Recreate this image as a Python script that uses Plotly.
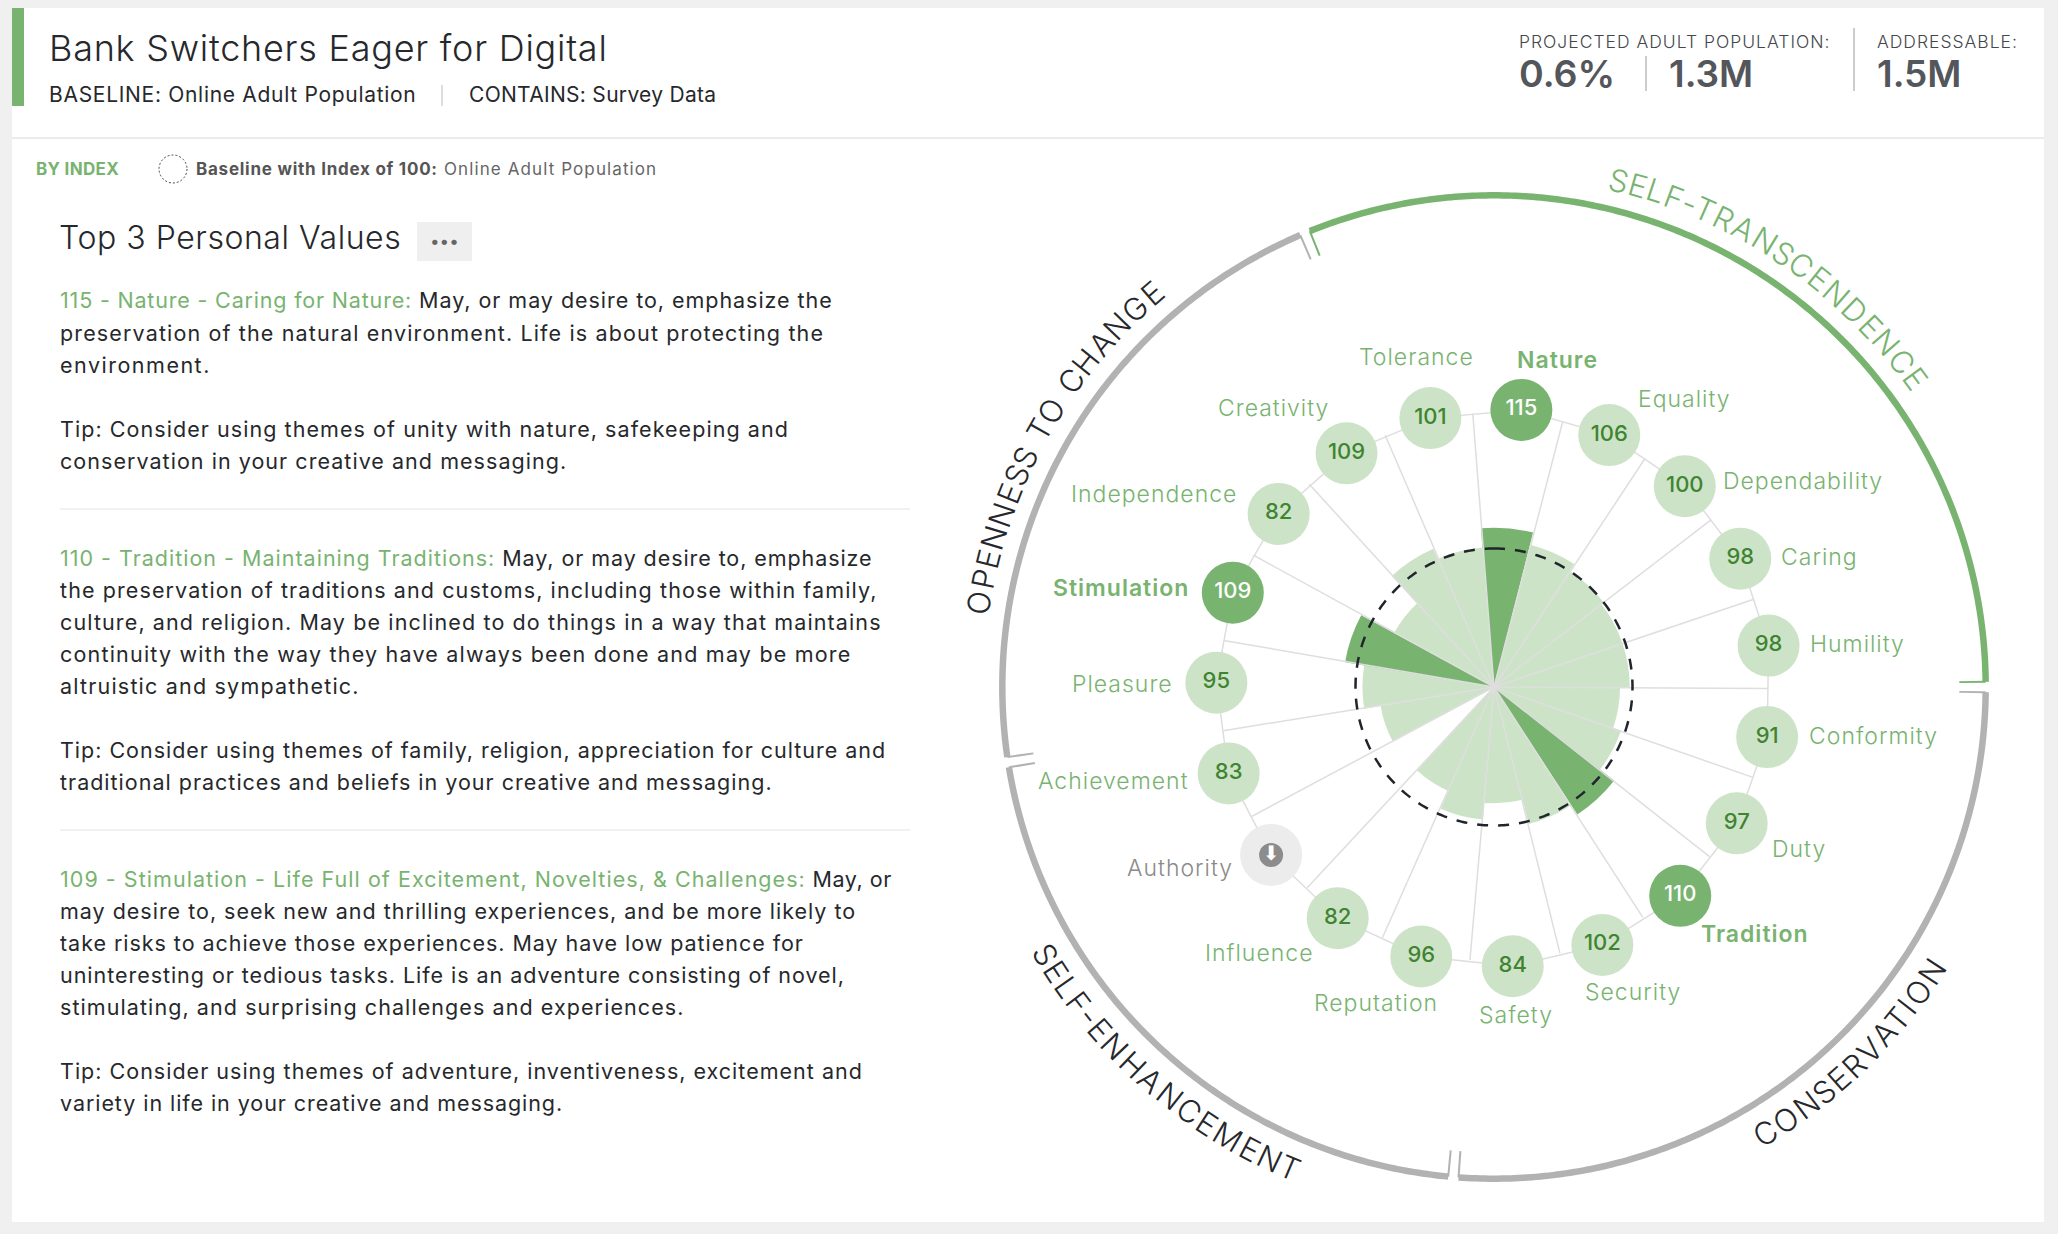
import numpy as np
import plotly.graph_objects as go

W, H = 2058, 1234
GREEN = "#78B370"
LIGHT = "#CDE3C7"
DKGREEN = "#3F8430"
GRAY = "#B2B2B2"
INK = "#26282B"
FONT = "Inter"

# centre of the wheel in page pixels and pixels per index point
CX, CY = 1494, 687
K = 1.385
RMAX = 375

names = ["Nature", "Equality", "Dependability", "Caring", "Humility", "Conformity", "Duty",
         "Tradition", "Security", "Safety", "Reputation", "Influence", "Authority",
         "Achievement", "Pleasure", "Stimulation", "Independence", "Creativity", "Tolerance"]
values = [115, 106, 100, 98, 98, 91, 97, 110, 102, 84, 96, 82, None, 83, 95, 109, 82, 109, 101]
top3 = ["Nature", "Tradition", "Stimulation"]

STEP = 360 / 19
theta = [4.737 + i * STEP for i in range(19)]
edges = [t - STEP / 2 for t in theta]
theta_bub = [t + 0.9 for t in theta]  # bubbles sit a little clockwise of their wedge
r_bub = [201, 200, 200, 200.5, 200.5, 200.5, 201, 202, 202, 202, 201.5, 201.5, 201.5, 201.5, 200.5, 200.5,
         199.5, 199.5, 199.5]

R_SPOKE = 198
R_RING = 355

fig = go.Figure()


def ann(x, y, text, size=21, color=INK, anchor="left", weight=400, angle=0, track=0):
    if track:
        text = '<span style="letter-spacing:%.2fpx">%s</span>' % (track, text)
    fig.add_annotation(x=x / W, y=1 - y / H, xref="paper", yref="paper", text=text, showarrow=False,
                       xanchor=anchor, yanchor="middle", align=anchor, textangle=angle,
                       font=dict(family=FONT, size=size, color=color, weight=weight))


def rect(x0, y0, x1, y1, fill=None, line=None, kind="rect", lw=0, dash=None):
    fig.add_shape(type=kind, xref="paper", yref="paper", x0=x0 / W, x1=x1 / W, y0=1 - y0 / H, y1=1 - y1 / H,
                  fillcolor=fill, line=dict(color=line, width=lw, dash=dash), layer="below")


# wedges
bar_t = [t for t, v in zip(theta, values) if v is not None]
bar_r = [v for v in values if v is not None]
bar_c = [GREEN if n in top3 else LIGHT for n, v in zip(names, values) if v is not None]
fig.add_trace(go.Barpolar(theta=bar_t, r=bar_r, width=STEP, marker=dict(color=bar_c, line=dict(width=0)),
                          hoverinfo="skip"))

# spokes and the line joining the bubbles
sp_t, sp_r = [], []
for e in edges:
    sp_t += [e + 0.3, e + 0.3, None]
    sp_r += [0, R_SPOKE, None]
fig.add_trace(go.Scatterpolar(theta=sp_t, r=sp_r, mode="lines", line=dict(color="#DEDEDE", width=1.5),
                              hoverinfo="skip"))
fig.add_trace(go.Scatterpolar(theta=theta_bub + theta_bub[:1], r=r_bub + r_bub[:1], mode="lines",
                              line=dict(color="#DEDEDE", width=1.5), hoverinfo="skip"))

# baseline at index 100
circ = np.arange(0, 361, 1.0)
fig.add_trace(go.Scatterpolar(theta=circ, r=[100] * len(circ), mode="lines",
                              line=dict(color="#20242B", width=2.5, dash="11px,10px"), hoverinfo="skip"))

# outer ring, four groups
groups = [("SELF-TRANSCENDENCE", 337.4, 450.0, GREEN),
          ("CONSERVATION", 90.0, 184.74, GRAY),
          ("SELF-ENHANCEMENT", 184.74, 261.2, GRAY),
          ("OPENNESS TO CHANGE", 261.2, 337.4, GRAY)]
for _, a, b, c in groups:
    th = np.arange(a + 0.6, b - 0.6, 0.5)
    th = np.append(th, b - 0.6)
    fig.add_trace(go.Scatterpolar(theta=th, r=[R_RING] * len(th), mode="lines", line=dict(color=c, width=6.5),
                                  hoverinfo="skip"))
    fig.add_trace(go.Scatterpolar(theta=[a + 0.6, a + 0.6, None, b - 0.6, b - 0.6],
                                  r=[R_RING, R_RING - 19, None, R_RING, R_RING - 19], mode="lines",
                                  line=dict(color=c, width=2), hoverinfo="skip"))

# bubbles
bub_c = ["#ECECEC" if v is None else (GREEN if n in top3 else LIGHT) for n, v in zip(names, values)]
txt_c = ["white" if n in top3 else DKGREEN for n in names]
fig.add_trace(go.Scatterpolar(theta=theta_bub, r=r_bub, mode="markers+text",
                              marker=dict(size=62, color=bub_c, line=dict(width=0)),
                              text=["" if v is None else str(v) for v in values], textposition="middle center",
                              textfont=dict(family=FONT, size=22, color=txt_c, weight=500), hoverinfo="skip"))

# arrow icon on Authority
ia = names.index("Authority")
fig.add_trace(go.Scatterpolar(theta=[theta_bub[ia]], r=[r_bub[ia]], mode="markers+text",
                              marker=dict(size=24, color="#8C8C8C"), text=["⬇"], textposition="middle center",
                              textfont=dict(family="DejaVu Sans", size=20, color="white"), hoverinfo="skip"))

fig.update_layout(
    width=W, height=H, margin=dict(l=0, r=0, t=0, b=0), paper_bgcolor="#F0F0F0", showlegend=False,
    polar=dict(
        domain=dict(x=[(CX - RMAX * K) / W, (CX + RMAX * K) / W],
                    y=[1 - (CY + RMAX * K) / H, 1 - (CY - RMAX * K) / H]),
        bgcolor="rgba(0,0,0,0)", bargap=0,
        radialaxis=dict(range=[0, RMAX], visible=False),
        angularaxis=dict(rotation=90, direction="clockwise", visible=False),
    ),
)

# card and header
rect(12, 8, 2044, 1222, fill="white")
rect(12, 8, 24, 106, fill=GREEN)
rect(12, 138, 2044, 138, line="#E4E4E4", kind="line", lw=1.5)
rect(442, 85, 442, 106, line="#BBBBBB", kind="line", lw=1)
rect(1646, 56, 1646, 91, line="#999999", kind="line", lw=1)
rect(1854, 28, 1854, 91, line="#999999", kind="line", lw=1)

ann(47, 48, "Bank Switchers Eager for Digital", size=36, weight=300, track=0.75)
ann(47, 95, "BASELINE: Online Adult Population", size=21, track=0.7)
ann(467, 95, "CONTAINS: Survey Data", size=21, track=0.3)
ann(1517, 41, "PROJECTED ADULT POPULATION:", size=17.5, color="#44474B", weight=300, track=1)
ann(1875, 41, "ADDRESSABLE:", size=17.5, color="#44474B", weight=300, track=1)
ann(1517, 73, "0.6%", size=37.5, color="#53565A", weight=600)
ann(1667, 73, "1.3M", size=37, color="#53565A", weight=600)
ann(1875, 73, "1.5M", size=37, color="#53565A", weight=600)

ann(34, 169, "BY INDEX", size=17, color=GREEN, weight=700, track=0.3)
rect(159, 155, 187, 183, line="#444444", kind="circle", lw=1, dash="2px,2px")
ann(194, 169, "Baseline with Index of 100:", size=17, color="#555555", weight=700, track=0.75)
ann(442, 169, "Online Adult Population", size=17, color="#666666", track=1.1)

ann(57, 238, "Top 3 Personal Values", size=32, weight=300, track=0.55)
rect(417, 222, 472, 261, fill="#EFEFEF")
ann(444.5, 241, "•••", size=17, color="#666666", anchor="center")


def lead(text, rest, t1, t2):
    return ('<span style="color:%s;letter-spacing:%.2fpx">%s</span><span style="letter-spacing:%.2fpx"> %s</span>'
            % (GREEN, t1, text, t2, rest))


# body text, one entry per line: y, text, letter spacing
body = [
    (300, lead("115 - Nature - Caring for Nature:", "May, or may desire to, emphasize the", 0.82, 0.96), 0),
    (333, "preservation of the natural environment. Life is about protecting the", 1.14),
    (365, "environment.", 1.5),
    (429, "Tip: Consider using themes of unity with nature, safekeeping and", 1.06),
    (461, "conservation in your creative and messaging.", 1.04),
    (558, lead("110 - Tradition - Maintaining Traditions:", "May, or may desire to, emphasize", 1.0, 0.92), 0),
    (590, "the preservation of traditions and customs, including those within family,", 1.1),
    (622, "culture, and religion. May be inclined to do things in a way that maintains", 1.12),
    (654, "continuity with the way they have always been done and may be more", 1.2),
    (686, "altruistic and sympathetic.", 1.2),
    (750, "Tip: Consider using themes of family, religion, appreciation for culture and", 0.98),
    (782, "traditional practices and beliefs in your creative and messaging.", 1.0),
    (879, lead("109 - Stimulation - Life Full of Excitement, Novelties, &amp; Challenges:", "May, or", 1.04, 0.55), 0),
    (911, "may desire to, seek new and thrilling experiences, and be more likely to", 0.99),
    (943, "take risks to achieve those experiences. May have low patience for", 0.96),
    (975, "uninteresting or tedious tasks. Life is an adventure consisting of novel,", 0.96),
    (1007, "stimulating, and surprising challenges and experiences.", 1.08),
    (1071, "Tip: Consider using themes of adventure, inventiveness, excitement and", 1.01),
    (1103, "variety in life in your creative and messaging.", 0.93),
]
for y, line, tr in body:
    ann(58, y, line, size=21.5, track=tr)
rect(60, 509, 910, 509, line="#ECECEC", kind="line", lw=1.5)
rect(60, 830, 910, 830, line="#ECECEC", kind="line", lw=1.5)

# bubble captions, page pixel position and anchor
labels = {
    "Tolerance": (1416, 357, "center"), "Nature": (1557, 360, "center"), "Equality": (1684, 399, "center"),
    "Dependability": (1721, 481, "left"), "Caring": (1779, 557, "left"), "Humility": (1808, 644, "left"),
    "Conformity": (1807, 736, "left"), "Duty": (1799, 849, "center"), "Tradition": (1755, 934, "center"),
    "Security": (1633, 992, "center"), "Safety": (1516, 1015, "center"), "Reputation": (1376, 1003, "center"),
    "Influence": (1259, 953, "center"), "Authority": (1180, 868, "center"), "Achievement": (1191, 781, "right"),
    "Pleasure": (1175, 684, "right"), "Stimulation": (1191, 588, "right"), "Independence": (1239, 494, "right"),
    "Creativity": (1273, 408, "center"),
}
for n, (x, y, a) in labels.items():
    col = "#8A8A8A" if n == "Authority" else GREEN
    ann(x, y, n, size=23, color=col, anchor=a, weight=600 if n in top3 else 300, track=1)

# group titles set letter by letter round the ring
adv = {"I": 0.42, "T": 0.72, "F": 0.72, "L": 0.7, "E": 0.76, "S": 0.76, "-": 0.55, " ": 0.42, "M": 1.1, "N": 0.95,
       "O": 1.02, "C": 0.88, "H": 0.95, "A": 0.88, "G": 0.95, "P": 0.8, "R": 0.82, "D": 0.95, "V": 0.85}
titles = [("SELF-TRANSCENDENCE", 13.8, 53.8, GREEN, 1),
          ("OPENNESS TO CHANGE", 279.3, 319.0, INK, 1),
          ("SELF-ENHANCEMENT", 239.2, 203.0, INK, -1),
          ("CONSERVATION", 148.6, 123.0, INK, -1)]
for word, a, b, col, way in titles:
    w = [adv[ch] for ch in word]
    pos = np.cumsum(w) - np.array(w) / 2
    pos = (pos - pos[0]) / (pos[-1] - pos[0])
    for ch, p in zip(word, pos):
        if ch == " ":
            continue
        t = a + (b - a) * p
        x = CX + 522 * np.sin(np.radians(t))
        y = CY - 522 * np.cos(np.radians(t))
        ann(x, y, ch, size=31, color=col, anchor="center", weight=300, angle=t if way == 1 else t - 180)

fig.write_html("out.html", config={"displayModeBar": False},
               post_script="document.body.style.margin='0';document.body.style.overflow='hidden';")
